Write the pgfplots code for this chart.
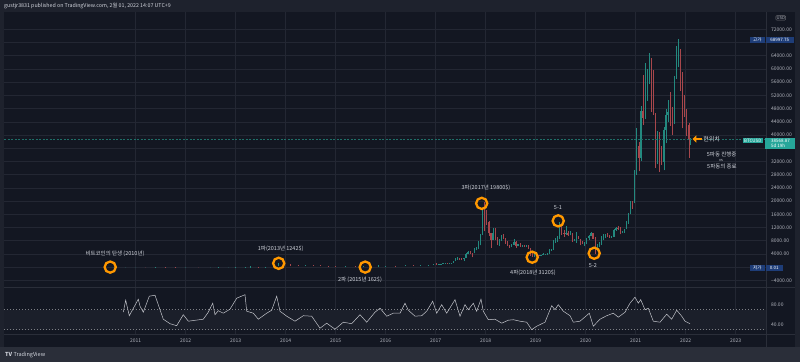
\documentclass[border=0pt]{standalone}
\usepackage{fontspec}
\setmainfont{Noto Sans CJK KR}
\usepackage{pgfplots}
\pgfplotsset{compat=1.18}
\usepackage{pgfplotstable}
\usetikzlibrary{arrows.meta}
\definecolor{outer}{HTML}{1E222D}
\definecolor{bg}{HTML}{131722}
\definecolor{gridc}{HTML}{232733}
\definecolor{sepc}{HTML}{2A2E39}
\definecolor{upc}{HTML}{26A69A}
\definecolor{dnc}{HTML}{EF5350}
\definecolor{upb}{HTML}{23897F}
\definecolor{dnb}{HTML}{A8474C}
\definecolor{curl}{HTML}{1F6F68}
\definecolor{txt}{HTML}{D1D4DC}
\definecolor{tickc}{HTML}{B2B5BE}
\definecolor{orng}{HTML}{FF9800}
\definecolor{navy}{HTML}{1E3D78}
\definecolor{band}{HTML}{1B1F2A}
\definecolor{rsil}{HTML}{C4C6CC}
\newcommand\tk{\fontsize{5}{5.5}\selectfont}
\tikzset{ring/.style={orng, line width=2.3pt},
  ann/.style={font=\fontsize{5.5}{6}\selectfont, text=txt}}

% prices in USD; plotted in thousands of USD
\pgfplotstableread{
x o h l c
2010.55 0.05 0.1 0.01 0.07
2010.80 0.07 0.4 0.06 0.3
2011.00 0.3 1.1 0.2 1
2011.40 0.8 32 0.8 18
2012.00 3 7 2.5 5
2012.50 5 8 5 7
2012.65 7 16 7 11
2012.85 11 13 10 13
2013.00 13 20 13 20
2013.20 20 90 20 90
2013.30 90 266 70 100
2013.60 80 120 70 110
2013.75 110 200 100 200
2013.85 200 1242 200 900
2014.40 450 680 440 630
2015.20 220 300 210 250
2015.55 240 320 230 280
2015.85 230 500 230 380
2016.00 380 460 360 430
2016.40 420 780 420 680
2016.70 580 620 560 610
2016.85 610 780 600 750
2016.96 750 980 740 960
2017.063 900 1030 880 970
2017.104 970 1050 950 1000
2017.146 1000 1200 990 1190
2017.188 1190 1290 1100 1240
2017.271 1040 1210 1010 1180
2017.313 1180 1350 1170 1340
2017.354 1340 1850 1340 1800
2017.396 1800 2760 1800 2300
2017.438 2300 2980 2300 2500
2017.563 2350 2900 1830 2870
2017.604 2870 4200 2700 4100
2017.646 4100 4750 3950 4700
2017.771 4150 5850 4150 5650
2017.813 5650 6200 5100 6100
2017.854 6100 7900 5500 6600
2017.896 6600 10000 6600 9800
2017.938 9800 17900 9700 17500
2018.146 8300 11800 8300 10400
2018.271 6900 8400 6500 8000
2018.313 8000 9800 7900 9250
2018.521 6400 6900 6100 6750
2018.563 6750 8500 6700 7750
2018.646 6300 7100 6250 7000
2018.729 6500 6800 6100 6600
2018.813 6300 6550 6250 6350
2018.979 3250 4200 3200 3700
2019.104 3450 3700 3400 3620
2019.146 3620 4200 3600 3850
2019.188 3850 3950 3750 3900
2019.229 3900 4150 3850 4100
2019.271 4100 5450 4100 5100
2019.313 5100 5600 4950 5300
2019.354 5300 8300 5300 8000
2019.396 8000 8900 7300 8550
2019.438 8550 9300 7500 8700
2019.479 8700 13800 8600 10800
2019.604 10100 12300 9800 10300
2019.688 9600 10900 9600 10300
2019.771 8300 8600 7800 8350
2019.813 8350 10500 7300 9200
2019.979 7150 7500 6400 7200
2020.021 7200 8900 6900 8800
2020.063 8800 9600 8300 9350
2020.104 9350 10500 9300 10350
2020.229 5400 6900 5000 6450
2020.271 6450 7500 6150 6850
2020.313 6850 9500 6750 8650
2020.354 8650 10000 8100 9300
2020.396 9300 9900 8700 9450
2020.521 9100 9400 9000 9200
2020.563 9200 11400 9150 11300
2020.604 11300 12100 11000 11800
2020.729 10400 11000 10200 10800
2020.771 10800 11500 10400 11500
2020.813 11500 14000 11400 13800
2020.854 13800 16500 13200 16000
2020.896 16000 19900 16000 19700
2020.979 19400 29300 19300 29000
2021.021 29000 42000 28000 36800
2021.104 33100 48900 32200 47200
2021.188 45100 61700 44900 55600
2021.229 55600 60000 50300 58800
2021.271 58800 64900 55400 63200
2021.438 37300 41300 31100 40200
2021.563 31800 42300 29300 41500
2021.604 41500 48000 37500 46000
2021.646 46000 50500 44000 47100
2021.771 43800 58000 43300 57300
2021.813 57300 67000 57000 61300
2021.854 61300 68997.75 60500 64000
2022.096 38500 39000 37000 38568.87
}\upT

\pgfplotstableread{
x o h l c
2011.20 1 1.2 0.7 0.8
2011.60 18 18 8 10
2011.80 10 10 2 3
2012.25 5 5.5 4.7 4.9
2013.45 100 130 60 80
2013.95 900 1000 500 750
2014.10 750 1000 400 550
2014.25 550 600 350 450
2014.55 630 650 560 590
2014.70 590 600 320 380
2014.85 380 450 340 350
2015.00 350 350 160 220
2015.40 250 260 220 240
2015.70 280 290 210 230
2016.20 430 440 370 420
2016.55 680 690 480 580
2017.021 970 1150 780 900
2017.229 1240 1250 890 1040
2017.479 2500 2700 2100 2450
2017.521 2450 2650 2280 2350
2017.688 4700 4980 3900 4200
2017.729 4200 4400 2970 4150
2017.979 17500 19800 10800 13800
2018.021 13800 17200 12750 13600
2018.063 13600 14000 9400 10200
2018.104 10200 10200 5900 8300
2018.188 10400 11700 8200 8300
2018.229 8300 9200 6600 6900
2018.354 9250 10000 8400 8500
2018.396 8500 8700 7100 7500
2018.438 7500 7800 6400 6500
2018.479 6500 6800 5750 6400
2018.604 7750 7780 5900 6300
2018.688 7000 7400 6100 6500
2018.771 6600 6700 6200 6300
2018.854 6350 6600 5500 5600
2018.896 5600 5700 3500 4000
2018.938 4000 4300 3120 3250
2019.021 3700 4100 3500 3600
2019.063 3600 3700 3350 3450
2019.521 10800 13200 9700 10200
2019.563 10200 11100 9100 10100
2019.646 10300 10900 9400 9600
2019.729 10300 10400 7700 8300
2019.854 9200 9500 8500 8550
2019.896 8550 8600 6600 7550
2019.938 7550 7800 7100 7150
2020.146 10350 10400 8500 8550
2020.188 8550 9200 3850 5400
2020.438 9450 10400 9200 9400
2020.479 9400 9800 8900 9100
2020.646 11800 12400 11300 11700
2020.688 11700 12100 9900 10400
2020.938 19700 19900 17600 19400
2021.063 36800 37900 29000 33100
2021.146 47200 58300 43000 45100
2021.313 63200 63300 47000 57700
2021.354 57700 59600 46000 46400
2021.396 46400 46700 30000 37300
2021.479 40200 41000 28800 35000
2021.521 35000 36600 31000 31800
2021.688 47100 52900 42800 44900
2021.729 44900 48500 40000 43800
2021.896 64000 66000 53300 57000
2021.938 57000 59000 42000 47500
2021.979 47500 52000 45500 46300
2022.021 46300 48000 39700 43000
2022.063 43000 43500 33000 38500
}\dnT

\pgfplotstableread{
x r
2010.752 65
2010.80 89
2010.872 58
2011.052 91
2011.086 77
2011.152 65
2011.272 97
2011.386 99
2011.486 70
2011.552 51
2011.686 42
2011.82 38
2011.952 60
2012.052 47
2012.352 51
2012.452 65
2012.54 83
2012.586 60
2012.652 68
2012.752 63
2012.886 71
2013.02 93
2013.186 100
2013.22 67
2013.352 63
2013.452 51
2013.62 63
2013.72 69
2013.82 97
2013.886 67
2014.02 57
2014.186 47
2014.352 58
2014.52 57
2014.686 33
2014.82 43
2014.986 31
2015.152 45
2015.32 42
2015.486 60
2015.62 45
2015.786 65
2015.886 73
2016.02 57
2016.152 63
2016.286 63
2016.386 83
2016.452 69
2016.586 57
2016.72 58
2016.82 67
2016.94 87
2017.02 63
2017.12 80
2017.22 63
2017.386 90
2017.486 57
2017.586 80
2017.652 70
2017.752 83
2017.82 67
2017.906 91
2017.952 67
2018.052 50
2018.186 51
2018.32 43
2018.452 49
2018.552 50
2018.686 47
2018.82 45
2018.92 30
2019.02 37
2019.186 45
2019.32 78
2019.386 70
2019.452 80
2019.552 67
2019.686 58
2019.752 45
2019.886 47
2020.072 63
2020.152 37
2020.286 51
2020.42 58
2020.552 63
2020.652 55
2020.786 65
2020.886 83
2020.986 95
2021.052 83
2021.10 90
2021.186 70
2021.252 73
2021.352 47
2021.486 45
2021.62 61
2021.72 51
2021.82 69
2021.92 57
2021.986 47
2022.086 42
}\rsiT

\begin{document}
\begin{tikzpicture}
\begin{scope}[x=1pt,y=1pt]
\fill[outer] (0,0) rectangle (800,362);
\fill[bg] (4,15.3) rectangle (795,350.3);
\fill[sepc] (0,0) rectangle (800,15.3);
\node[anchor=west, text=txt, font=\fontsize{5.3}{6}\selectfont, inner sep=0pt] at (4,356) {gustjr3831 published on TradingView.com, 2월 01, 2022 14:07 UTC+9};
\node[anchor=west, text=txt, font=\fontsize{5.5}{6}\selectfont, inner sep=0pt] at (5,7.5) {\textbf{TV} TradingView};
\end{scope}

% price panel (y in thousands of USD)
\begin{axis}[
  at={(4pt,75pt)}, anchor=south west, scale only axis,
  width=762pt, height=275.3pt,
  xmin=2008.366, xmax=2023.606, ymin=-6.026, ymax=77.333,
  axis line style={draw=none}, major tick length=0pt,
  xtick={2011,2012,...,2023}, xticklabels={,,,,,,,,,,,,,},
  ytick={-4,0,4,...,72},
  yticklabels={−4000.00,,4000.00,8000.00,12000.00,16000.00,20000.00,24000.00,28000.00,32000.00,,40000.00,44000.00,48000.00,52000.00,56000.00,60000.00,64000.00,,72000.00},
  yticklabel pos=right,
  yticklabel style={font=\tk, text=tickc, anchor=west, xshift=1.5pt},
  grid=major, major grid style={gridc, line width=0.5pt},
]
\addplot[draw=upb, line width=0.6pt, quiver={u=0, v=(\thisrow{h}-\thisrow{l})/1000, every arrow/.append style={draw=upb, line width=0.6pt}}] table[x=x, y expr=\thisrow{l}/1000] {\upT};
\addplot[draw=dnb, line width=0.6pt, quiver={u=0, v=(\thisrow{h}-\thisrow{l})/1000, every arrow/.append style={draw=dnb, line width=0.6pt}}] table[x=x, y expr=\thisrow{l}/1000] {\dnT};
\addplot[draw=upb, line width=1.2pt, quiver={u=0, v=(\thisrow{c}-\thisrow{o})/1000, every arrow/.append style={draw=upb, line width=1.2pt}}] table[x=x, y expr=\thisrow{o}/1000] {\upT};
\addplot[draw=dnb, line width=1.2pt, quiver={u=0, v=(\thisrow{o}-\thisrow{c})/1000, every arrow/.append style={draw=dnb, line width=1.2pt}}] table[x=x, y expr=\thisrow{c}/1000] {\dnT};
\addplot[draw=curl, line width=0.6pt, dash pattern=on 2pt off 1.5pt] coordinates {(2008.366,38.56887) (2023.606,38.56887)};
% circles
\draw[ring] (axis cs:2010.49,0) circle[radius=5.6pt];
\draw[ring] (axis cs:2013.86,1.15) circle[radius=5.6pt];
\draw[ring] (axis cs:2015.59,0) circle[radius=5.6pt];
\draw[ring] (axis cs:2017.92,19.3) circle[radius=5.6pt];
\draw[ring] (axis cs:2018.93,3.0) circle[radius=5.6pt];
\draw[ring] (axis cs:2019.45,14.0) circle[radius=5.6pt];
\draw[ring] (axis cs:2020.17,4.2) circle[radius=5.6pt];
\node[ann] at (axis cs:2010.586,3.966) {비트코인의 탄생 (2010년)};
\node[ann] at (axis cs:2013.90,5.48) {1파(2013년 1242\$)};
\node[ann] at (axis cs:2015.486,-3.906) {2파 (2015년 162\$)};
\node[ann] at (axis cs:2018.006,24.163) {3파(2017년 19800\$)};
\node[ann] at (axis cs:2018.946,-1.696) {4파(2018년 3120\$)};
\node[ann] at (axis cs:2019.446,17.985) {5-1};
\node[ann] at (axis cs:2020.146,0.424) {5-2};
\node[font=\fontsize{6}{6.5}\selectfont, text=txt] at (axis cs:2022.52,38.787) {현위치};
\node[ann] at (axis cs:2022.72,34.033) {5파동 진행중};
\node[font=\fontsize{3.8}{4}\selectfont, text=txt] at (axis cs:2022.706,32.34) {vs};
\node[ann] at (axis cs:2022.726,30.612) {5파동의 종료};
\end{axis}

% RSI panel
\begin{axis}[
  at={(4pt,28pt)}, anchor=south west, scale only axis,
  width=762pt, height=46.5pt,
  xmin=2008.366, xmax=2023.606, ymin=21.4, ymax=114.4,
  axis line style={draw=none}, major tick length=0pt,
  xtick={2011,2012,...,2023},
  xticklabels={2011,2012,2013,2014,2015,2016,2017,2018,2019,2020,2021,2022,2023},
  xticklabel style={font=\tk, text=tickc, yshift=-1.5pt},
  ytick={40,80}, yticklabels={40.00,80.00},
  yticklabel pos=right,
  yticklabel style={font=\tk, text=tickc, anchor=west, xshift=1.5pt},
  xmajorgrids, major grid style={gridc, line width=0.5pt},
]
\fill[band] (axis cs:2008.366,30) rectangle (axis cs:2023.606,70);
\addplot[draw=tickc!70!black, line width=0.6pt, dash pattern=on 1.4pt off 1.6pt] coordinates {(2008.366,70) (2023.606,70)};
\addplot[draw=tickc!70!black, line width=0.6pt, dash pattern=on 1.4pt off 1.6pt] coordinates {(2008.366,30) (2023.606,30)};
\addplot[draw=rsil, line width=0.5pt] table[x=x, y=r] {\rsiT};
\end{axis}

\begin{scope}[x=1pt,y=1pt]
% separators
\draw[sepc, line width=0.8pt] (766,15.3) -- (766,350.3);
\draw[sepc, line width=0.8pt] (4,74.5) -- (795,74.5);
\draw[sepc, line width=0.8pt] (4,28) -- (795,28);
% arrow
\draw[orng, line width=2.3pt, -{Triangle[length=3.8pt,width=7pt]}] (701.5,223) -- (692.5,223);
% price scale labels
\node[fill=bg, draw=tickc!60!black, rounded corners=1pt, inner sep=0.7pt, text=tickc, font=\fontsize{4.2}{4.5}\selectfont] at (780.7,344.1) {USD};
\node[fill=navy, text=white, inner sep=0pt, minimum height=6pt, minimum width=15pt, font=\fontsize{4.5}{5}\selectfont, anchor=east] at (765,321.7) {고가};
\node[fill=navy, text=white, inner sep=0pt, minimum height=6pt, minimum width=28pt, font=\fontsize{4.5}{5}\selectfont, anchor=west] at (765.5,321.7) {68997.75};
\node[fill=navy, text=white, inner sep=0pt, minimum height=6pt, minimum width=15pt, font=\fontsize{4.5}{5}\selectfont, anchor=east] at (765,94.2) {저가};
\node[fill=navy, text=white, inner sep=0pt, minimum height=6pt, minimum width=17pt, font=\fontsize{4.5}{5}\selectfont, anchor=west] at (765.5,94.2) {0.01};
\node[fill=upc, text=white, inner sep=0pt, minimum height=5.8pt, minimum width=20.6pt, font=\fontsize{4.5}{5}\selectfont, anchor=east] at (763.3,221.5) {BTCUSD};
\node[fill=upc, text=white, inner sep=1pt, minimum width=30pt, align=left, font=\fontsize{4.5}{5.6}\selectfont, anchor=north west] at (765.2,224.4) {38568.87\\5d 19h};
\end{scope}
\end{tikzpicture}
\end{document}
